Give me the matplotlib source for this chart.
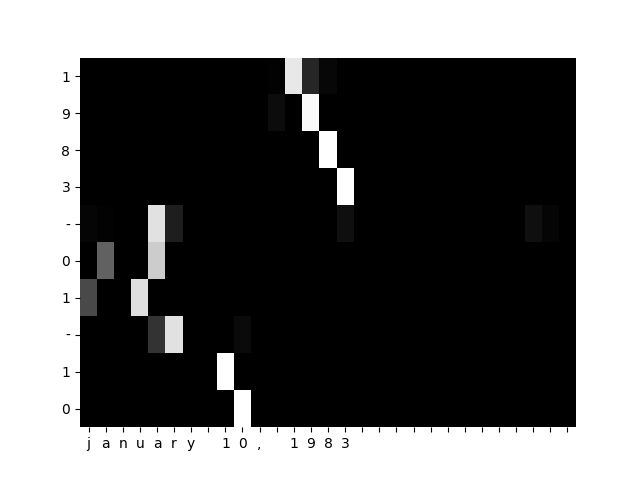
import numpy as np
import matplotlib
matplotlib.use("Agg")
import matplotlib.pyplot as plt

# input characters (padded to 29) and output characters
input_chars = list("january 10, 1983") + [""] * 13
output_chars = list("1983-01-10")

# attention weights: (row, col, value)
weights = [
    (0, 11, 0.01), (0, 12, 0.91), (0, 13, 0.15), (0, 14, 0.03),
    (1, 11, 0.05), (1, 13, 0.98),
    (2, 14, 1.0),
    (3, 15, 1.0),
    (4, 0, 0.02), (4, 1, 0.01), (4, 4, 0.88), (4, 5, 0.12),
    (4, 15, 0.06), (4, 26, 0.06), (4, 27, 0.02),
    (5, 1, 0.38), (5, 4, 0.80),
    (6, 0, 0.29), (6, 3, 0.87),
    (7, 4, 0.20), (7, 5, 0.88), (7, 9, 0.04),
    (8, 8, 1.0),
    (9, 9, 1.0),
]

attn = np.zeros((len(output_chars), len(input_chars)))
for r, c, v in weights:
    attn[r, c] = v

fig, ax = plt.subplots(figsize=(6.4, 4.8), dpi=100)
ax.imshow(attn, cmap="gray", aspect="auto", interpolation="nearest")
ax.set_xticks(range(len(input_chars)))
ax.set_xticklabels(input_chars)
ax.set_yticks(range(len(output_chars)))
ax.set_yticklabels(output_chars)
for s in ax.spines.values():
    s.set_visible(False)

fig.savefig("out.png")
